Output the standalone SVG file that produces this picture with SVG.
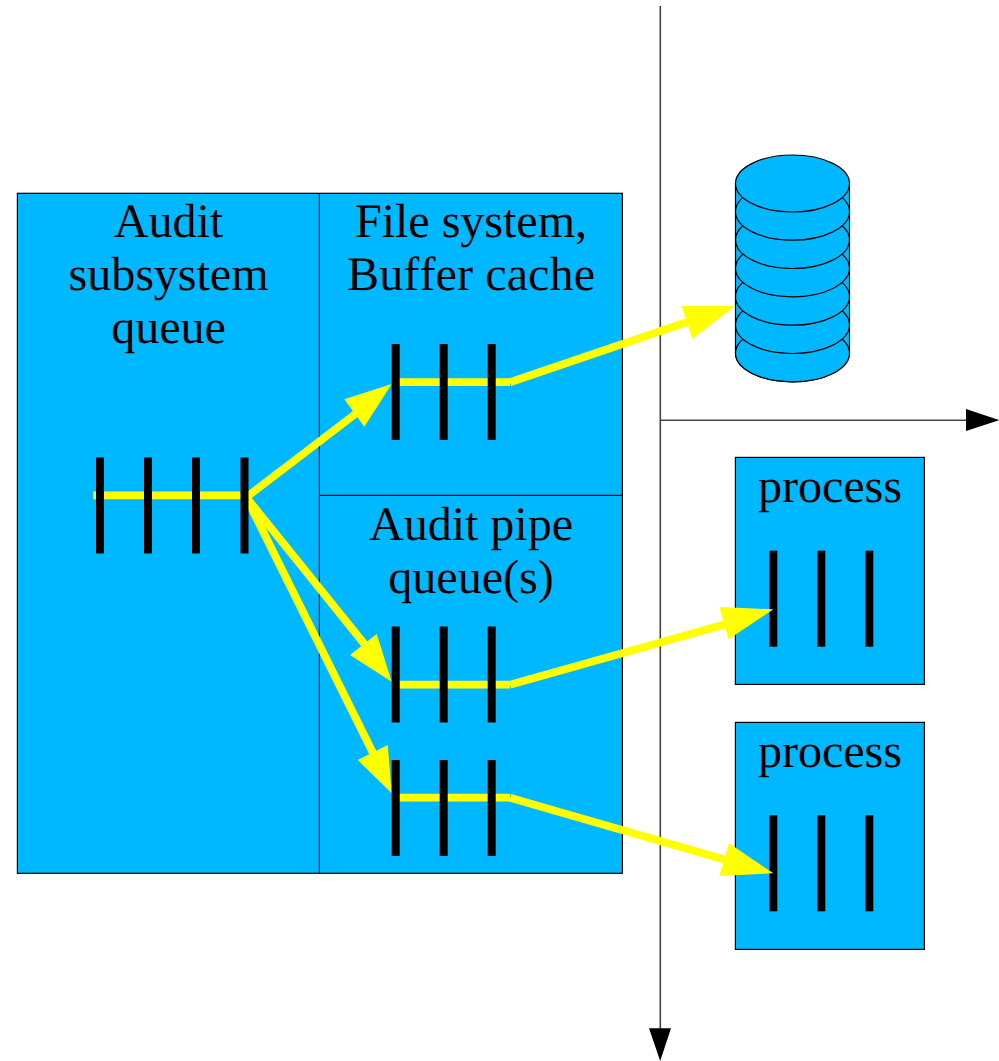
<svg xmlns="http://www.w3.org/2000/svg" width="999" height="1061" viewBox="0 0 999 1061">
<style>
.box{fill:#00b8ff;stroke:#000;stroke-width:1.2}
.div{fill:none;stroke:#000;stroke-width:1.2}
.bar{fill:#000}
.y{fill:none;stroke:#ff0;stroke-width:7.8}
.yh{fill:#ff0}
.ax{stroke:#444;stroke-width:1.6;fill:none}
.ah{fill:#000}
.d{fill:#00b8ff;stroke:#000;stroke-width:1.2}
text{font-family:"Liberation Serif","Times New Roman",serif;font-size:48px;fill:#000;text-anchor:middle;font-kerning:none;text-rendering:geometricPrecision}
</style>
<rect width="999" height="1061" fill="#fff"/>
<g id="main-box">
<rect class="box" x="17.400" y="193.300" width="605" height="680"/>
<path class="div" d="M319.400 193.300V873.300M319.400 495.300H622.400"/>
<text x="168.500" y="236.500">Audit</text><text x="168.500" y="289.500">subsystem</text><text x="168.500" y="342.500">queue</text>
<text x="471" y="236.500" textLength="232">File system,</text><text x="471" y="289.500" textLength="248">Buffer cache</text>
<text x="471" y="540">Audit pipe</text><text x="471" y="593">queue(s)</text>
</g>
<g id="disk">
<path class="d" d="M735.500 183.500V353.300A57 28.500 0 0 0 849.500 353.300V183.500Z"/>
<ellipse class="d" cx="792.500" cy="353.300" rx="57" ry="28.500"/>
<ellipse class="d" cx="792.500" cy="325" rx="57" ry="28.500"/>
<ellipse class="d" cx="792.500" cy="296.700" rx="57" ry="28.500"/>
<ellipse class="d" cx="792.500" cy="268.300" rx="57" ry="28.500"/>
<ellipse class="d" cx="792.500" cy="240" rx="57" ry="28.500"/>
<ellipse class="d" cx="792.500" cy="211.700" rx="57" ry="28.500"/>
<ellipse class="d" cx="792.500" cy="183.500" rx="57" ry="28.500"/>
</g>
<g id="process-1"><rect class="box" x="735.400" y="457.400" width="189" height="227"/><text x="830" y="502">process</text>
<g class="bar"><rect x="769.300" y="550.700" width="8" height="96"/><rect x="817.300" y="550.700" width="8" height="96"/><rect x="865.300" y="550.700" width="8" height="96"/></g></g>
<g id="process-2"><rect class="box" x="735.400" y="722.400" width="189" height="227"/><text x="830" y="766.500">process</text>
<g class="bar"><rect x="769.300" y="815.300" width="8" height="96"/><rect x="817.300" y="815.300" width="8" height="96"/><rect x="865.300" y="815.300" width="8" height="96"/></g></g>
<g id="connectors">
<path class="ax" d="M660.300 6V1030M660.300 420.200H967"/>
<path class="ah" d="M649 1028.300H671L660.200 1061ZM966 409L999.500 420.200L966 431Z"/>
<path class="y" d="M93.300 495.300H246"/>
<path class="y" d="M246 497.500L356 413.500"/><path class="yh" d="M344.300 399.300L391.700 384L364.300 426.700Z"/>
<path class="y" d="M246 497L366 646"/><path class="yh" d="M376.700 634L391.700 681.700L350 655Z"/>
<path class="y" d="M246 497L374 755"/><path class="yh" d="M387.700 745L391.700 793.300L357.700 760Z"/>
<path class="y" d="M396 382.200H510M510 382.200L690 321"/><path class="yh" d="M681.700 306H735L692.300 338.700Z"/>
<path class="y" d="M396 684.700H510M510 684.700L726 624"/><path class="yh" d="M719.300 607L773.300 609.300L728.700 639.300Z"/>
<path class="y" d="M396 797.700H510M510 797.700L726 860"/><path class="yh" d="M729 843.300L773.300 873.300L719.300 876Z"/>
</g>
<g id="queues" class="bar">
<rect x="96" y="457.500" width="8" height="96"/><rect x="144" y="457.500" width="8" height="96"/><rect x="192" y="457.500" width="8" height="96"/><rect x="240.500" y="457.500" width="8" height="96"/>
<rect x="391.700" y="344" width="8" height="96"/><rect x="439.700" y="344" width="8" height="96"/><rect x="487.700" y="344" width="8" height="96"/>
<rect x="391.700" y="626.500" width="8" height="96"/><rect x="439.700" y="626.500" width="8" height="96"/><rect x="487.700" y="626.500" width="8" height="96"/>
<rect x="391.700" y="760" width="8" height="96"/><rect x="439.700" y="760" width="8" height="96"/><rect x="487.700" y="760" width="8" height="96"/>
</g>
</svg>
